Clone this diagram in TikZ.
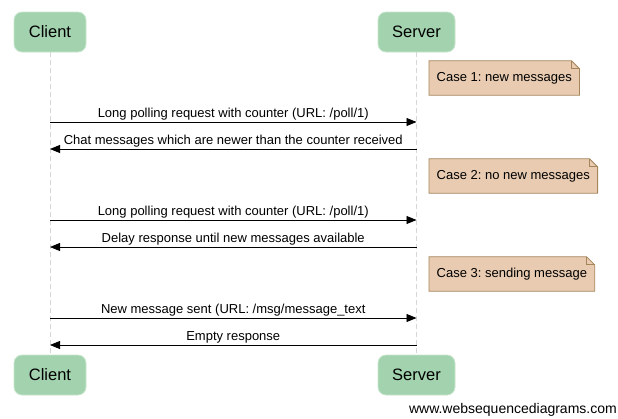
\documentclass[tikz,border=0pt]{standalone}
\usepackage{fontspec}
\setmainfont{Liberation Sans}
\usetikzlibrary{arrows.meta,backgrounds,calc}
\definecolor{actorfill}{HTML}{A3D2AE}
\definecolor{actordraw}{HTML}{C9E6CE}
\definecolor{notefill}{HTML}{E8CBB1}
\definecolor{notedraw}{HTML}{A5855A}
\definecolor{lifeline}{HTML}{D6D6D6}
\frenchspacing
\begin{document}
\begin{tikzpicture}[x=1pt,y=-1pt,
  actor/.style={draw=actordraw, fill=actorfill, line width=0.8pt, rounded corners=8pt,
    minimum height=40pt, inner sep=0pt, font=\fontsize{16.5}{18}\selectfont},
  notetext/.style={anchor=west, minimum height=34pt, inner xsep=7.5pt, inner ysep=0pt,
    font=\fontsize{13}{15}\selectfont},
  notebox/.style={draw=notedraw, fill=notefill, line width=0.8pt},
  lifelinestyle/.style={draw=lifeline, line width=0.8pt, dash pattern=on 5pt off 3pt},
  msg/.style={draw=black, line width=0.8pt, -{Triangle[length=10pt,width=8pt]}},
  msglabel/.style={above, midway, inner sep=1.5pt, font=\fontsize{13}{15}\selectfont}
]
\useasboundingbox (0,0) rectangle (618,418);

% actors
\node[actor, minimum width=72pt] (ct) at (50,32) {Client};
\node[actor, minimum width=77pt] (st) at (416.5,32) {Server};
\node[actor, minimum width=72pt] (cb) at (50,375) {Client};
\node[actor, minimum width=77pt] (sb) at (416.5,375) {Server};

% lifelines
\draw[lifelinestyle] (ct.south) -- (cb.north);
\draw[lifelinestyle] (st.south) -- (sb.north);

% message endpoints
\foreach \i/\y in {1/122,2/149,3/220,4/247,5/318,6/345}{
  \coordinate (c\i) at (ct.south |- 0,\y);
  \coordinate (s\i) at (st.south |- 0,\y);
}

% notes
\node[notetext] (n1) at (429,78) {Case 1: new messages};
\node[notetext] (n2) at (429,176) {Case 2: no new messages};
\node[notetext] (n3) at (429,274) {Case 3: sending message};
\begin{scope}[on background layer]
\fill[white] (0,0) rectangle (618,418);
\foreach \n in {n1,n2,n3}{
  \draw[notebox] (\n.south west) -- (\n.north west) -- ($(\n.north east)+(-8,0)$)
    -- ($(\n.north east)+(0,8)$) -- (\n.south east) -- cycle;
  \draw[draw=notedraw, line width=0.8pt] ($(\n.north east)+(-8,0)$) -- ($(\n.north east)+(-8,8)$) -- ($(\n.north east)+(0,8)$);
}
\end{scope}

% messages
\draw[msg] (c1) -- node[msglabel] {Long polling request with counter (URL: /poll/1)} (s1);
\draw[msg] (s2) -- node[msglabel] {Chat messages which are newer than the counter received} (c2);
\draw[msg] (c3) -- node[msglabel] {Long polling request with counter (URL: /poll/1)} (s3);
\draw[msg] (s4) -- node[msglabel] {Delay response until new messages available} (c4);
\draw[msg] (c5) -- node[msglabel] {New message sent (URL: /msg/message\_text} (s5);
\draw[msg] (s6) -- node[msglabel] {Empty response} (c6);

% watermark
\node[anchor=east, inner sep=0pt, font=\fontsize{14}{16}\selectfont] (wm) at (617,410) {www.websequencediagrams.com};
\end{tikzpicture}
\end{document}
